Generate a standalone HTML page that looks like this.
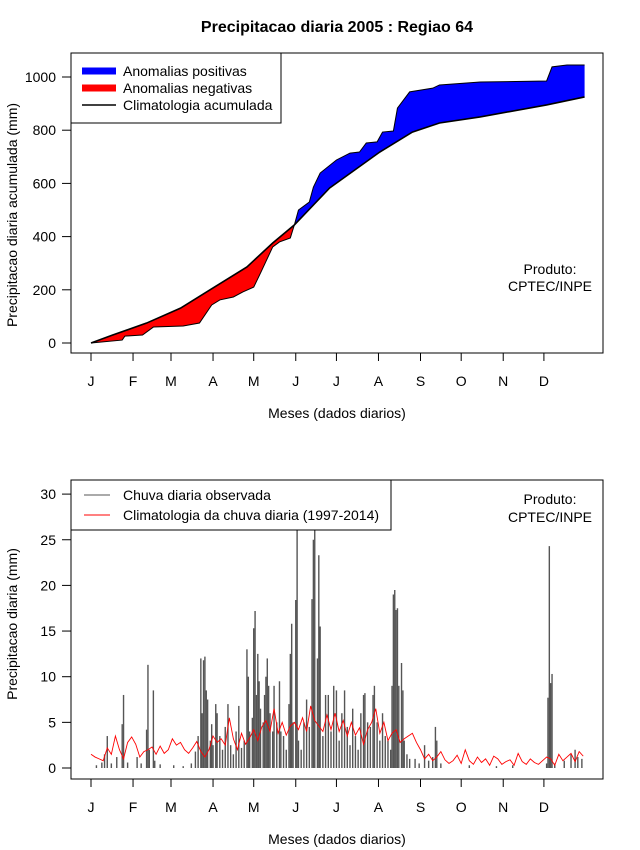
<!DOCTYPE html>
<html><head><meta charset="utf-8"><style>
body{margin:0;background:#fff;position:relative;}
svg{display:block;font-family:"Liberation Sans",sans-serif;}
</style></head><body>
<svg id="chart" width="640" height="850" viewBox="0 0 640 850">
<text x="337" y="32" text-anchor="middle" font-size="16" font-weight="bold">Precipitacao diaria 2005 : Regiao 64</text>
<g id="topPanel"></g>
<g id="botPanel"></g>
</svg>
<script>
// ---- top panel data (cumulative, mm) ----
const climDaysCum = [1,17,42,67,91,116,135,151,177,214,238,258,288,337,365];
const climCum = [0,30,75,131,207,286,376,444,583,718,793,827,850,895,925];
const obsDaysCum = [1,24,26,39,47,69,81,90,96,106,113,121,126,135,140,148,150,151,154,162,165,170,182,192,199,204,212,216,224,227,236,253,258,288,337,341,352,365];
const obsCum = [0,11,26,30,60,64,75,143,162,173,192,210,263,361,380,395,428,444,500,530,586,639,688,714,718,752,756,793,797,883,944,958,970,981,985,1038,1045,1045];
const topTicks = [0,200,400,600,800,1000];
// ---- bottom panel data (daily, mm) ----
const climDaily = [1.5,1.2,1.0,0.8,2.2,1.5,3.5,2.0,1.0,2.8,3.4,
2.6,1.2,1.8,2.0,2.3,1.5,2.4,1.6,2.0,
3.2,2.5,2.8,2.0,1.6,2.2,2.9,1.8,1.2,2.0,
3.5,2.8,3.2,2.5,5.5,3.2,2.0,3.8,2.6,3.3,
4.2,3.0,4.5,5.2,4.0,6.5,3.8,5.0,3.6,4.6,
5.0,4.2,5.5,4.0,6.8,5.2,4.6,4.0,5.8,4.2,
6.0,4.0,5.2,3.5,5.0,3.6,4.4,2.6,4.2,5.0,
6.5,3.8,5.0,3.0,3.8,4.2,2.8,3.2,3.5,3.8,
2.8,2.0,1.0,1.5,0.8,1.2,1.8,0.9,0.5,0.8,
1.4,0.5,2.0,0.8,0.4,1.2,0.6,1.0,0.3,1.3,
1.0,0.4,0.7,0.9,0.3,1.6,0.7,0.4,1.0,0.6,
0.4,0.8,1.2,1.0,0.3,1.5,0.8,1.2,1.6,0.7,1.8,1.3];
const climDailyStep = 3;
const obsDays = [5,9,11,13,16,20,24,25,28,35,38,42,43,44,47,48,52,62,69,75,78,80,82,83,84,85,86,87,89,90,
91,93,94,96,98,100,102,104,106,108,110,112,114,116,117,118,
120,121,122,123,124,125,126,128,129,130,131,132,133,135,136,138,140,141,143,145,147,148,149,150,
152,153,154,156,158,160,162,164,165,166,168,169,170,172,174,176,178,180,
182,184,186,188,190,192,194,196,198,200,202,203,205,207,209,
210,212,214,216,218,220,222,223,224,225,226,227,228,230,231,232,234,236,
240,243,247,250,253,255,256,259,280,300,312,
337,338,339,340,341,343,350,355,358,360,363];
const obsVals = [0.3,0.6,1.5,3.5,0.5,1.2,4.8,8.0,0.6,1.2,0.5,4.2,11.3,2.0,8.5,0.8,0.4,0.3,0.2,0.5,1.8,3.5,12.0,6.0,11.8,12.2,8.5,7.5,3.0,4.8,
2.5,7.0,6.0,3.5,2.0,4.5,7.0,2.5,1.5,4.0,6.8,2.2,3.0,13.0,10.0,4.0,
5.5,15.3,17.2,8.0,12.5,9.5,6.5,5.0,8.0,10.0,12.0,9.0,6.0,4.0,9.0,5.0,9.5,4.0,3.5,2.0,7.0,12.5,15.8,5.0,
18.4,30,3.0,2.0,5.0,7.5,4.5,18.5,25.0,30,12.0,23.3,15.5,3.5,8.0,8.0,4.0,9.0,
8.5,3.0,6.0,8.5,4.5,2.5,6.5,3.5,2.0,6.0,8.0,8.2,5.0,4.5,8.0,
9.0,5.0,3.0,6.0,3.5,3.0,2.0,9.0,19.0,19.5,17.3,17.5,9.0,11.5,8.5,3.0,1.5,1.0,
1.0,0.5,2.5,0.8,1.2,4.5,3.0,0.5,0.3,0.2,0.3,
0.5,7.7,24.3,9.3,10.3,0.5,0.8,1.5,2.0,1.2,1.0];
const botTicks = [0,5,10,15,20,25,30];
const monthLabels = ["J","F","M","A","M","J","J","A","S","O","N","D"];
const monthDays = [1,32,60,91,121,152,182,213,244,274,305,335];

const NS="http://www.w3.org/2000/svg";
function mk(parent,tag,attrs){const e=document.createElementNS(NS,tag);for(const k in attrs)e.setAttribute(k,attrs[k]);parent.appendChild(e);return e;}
const xd = d => 91 + (d-1)*1.356;
const yTop = v => 343 - v*0.266;
const yBot = v => 768 - v*9.13;

function axes(g, boxY, boxH, ticks, yf, ytitle, ycenter){
  const box=mk(g,'rect',{x:71,y:boxY,width:532,height:boxH,fill:'none',stroke:'#000','stroke-width':1});
  
  
  const by=boxY+boxH;
  monthDays.forEach((d,i)=>{
    const t=mk(g,'line',{x1:xd(d),x2:xd(d),y1:by,y2:by+8,stroke:'#000'});
    
    
    const l=mk(g,'text',{x:xd(d),y:by+33,'text-anchor':'middle','font-size':14});
    l.textContent=monthLabels[i];
    
    
  });
  ticks.forEach(v=>{
    const t=mk(g,'line',{x1:62,x2:71,y1:yf(v),y2:yf(v),stroke:'#000'});
    
    
    const l=mk(g,'text',{x:56,y:yf(v)+5,'text-anchor':'end','font-size':14});
    l.textContent=v;
    
    
  });
  const xt=mk(g,'text',{x:337,y:by+65,'text-anchor':'middle','font-size':14});
  xt.textContent='Meses (dados diarios)';
  
  
  const yt=mk(g,'text',{x:0,y:0,'text-anchor':'middle','font-size':14,transform:`translate(17,${ycenter}) rotate(-90)`});
  yt.textContent=ytitle;
  
  
}

// ---- TOP ----
const topG=document.getElementById('topPanel');
const defs=mk(topG,'defs',{});
const c1=mk(defs,'clipPath',{id:'cNeg'});mk(c1,'rect',{x:0,y:0,width:xd(151),height:850});
const c2=mk(defs,'clipPath',{id:'cPos'});mk(c2,'rect',{x:xd(151),y:0,width:640,height:850});
const obsPts=obsDaysCum.map((d,i)=>`${xd(d)},${yTop(obsCum[i])}`);
const climPts=climDaysCum.map((d,i)=>`${xd(d)},${yTop(climCum[i])}`);
const band=obsPts.concat(climPts.slice().reverse()).join(' ');
const neg=mk(topG,'polygon',{points:band,fill:'#ff0000','clip-path':'url(#cNeg)'});


const pos=mk(topG,'polygon',{points:band,fill:'#0000ff','clip-path':'url(#cPos)'});


const ol=mk(topG,'polyline',{points:obsPts.join(' '),fill:'none',stroke:'#000','stroke-width':1});


const cl=mk(topG,'polyline',{points:climPts.join(' '),fill:'none',stroke:'#000','stroke-width':1.6});


axes(topG,53,300,topTicks,yTop,'Precipitacao diaria acumulada (mm)',215);

// ---- BOTTOM ----
const botG=document.getElementById('botPanel');
obsDays.forEach((d,i)=>{
  const b=mk(botG,'line',{x1:xd(d),x2:xd(d),y1:yBot(0),y2:yBot(obsVals[i]),stroke:'#555','stroke-width':1.4});
  
  
});
const cdPts=climDaily.map((v,i)=>`${xd(1+i*climDailyStep)},${yBot(v)}`).join(' ');
const cdl=mk(botG,'polyline',{points:cdPts,fill:'none',stroke:'#ff0000','stroke-width':0.9});


axes(botG,480,299,botTicks,yBot,'Precipitacao diaria (mm)',624);
</script>
<svg width="640" height="850" style="position:absolute;left:0;top:0;font-family:'Liberation Sans',sans-serif">
<g>
<rect x="71" y="53" width="210" height="70" fill="#fff" stroke="#000"/>
<line x1="82" y1="71" x2="116" y2="71" stroke="#0000ff" stroke-width="7"/>
<line x1="82" y1="88" x2="116" y2="88" stroke="#ff0000" stroke-width="7"/>
<line x1="82" y1="105" x2="116" y2="105" stroke="#000" stroke-width="1.5"/>
<text x="123" y="76" font-size="14">Anomalias positivas</text>
<text x="123" y="93" font-size="14">Anomalias negativas</text>
<text x="123" y="110" font-size="14">Climatologia acumulada</text>
</g>
<g>
<text x="550" y="274" font-size="14" text-anchor="middle">Produto:</text>
<text x="550" y="291" font-size="14" text-anchor="middle">CPTEC/INPE</text>
</g>
<g>
<rect x="71" y="480" width="320" height="50" fill="#fff" stroke="#000"/>
<line x1="84" y1="495" x2="110" y2="495" stroke="#555" stroke-width="1"/>
<line x1="84" y1="515" x2="110" y2="515" stroke="#ff0000" stroke-width="1"/>
<text x="123" y="500" font-size="14">Chuva diaria observada</text>
<text x="123" y="520" font-size="14">Climatologia da chuva diaria (1997-2014)</text>
</g>
<g>
<text x="550" y="504" font-size="14" text-anchor="middle">Produto:</text>
<text x="550" y="522" font-size="14" text-anchor="middle">CPTEC/INPE</text>
</g>
</svg>
</body></html>
